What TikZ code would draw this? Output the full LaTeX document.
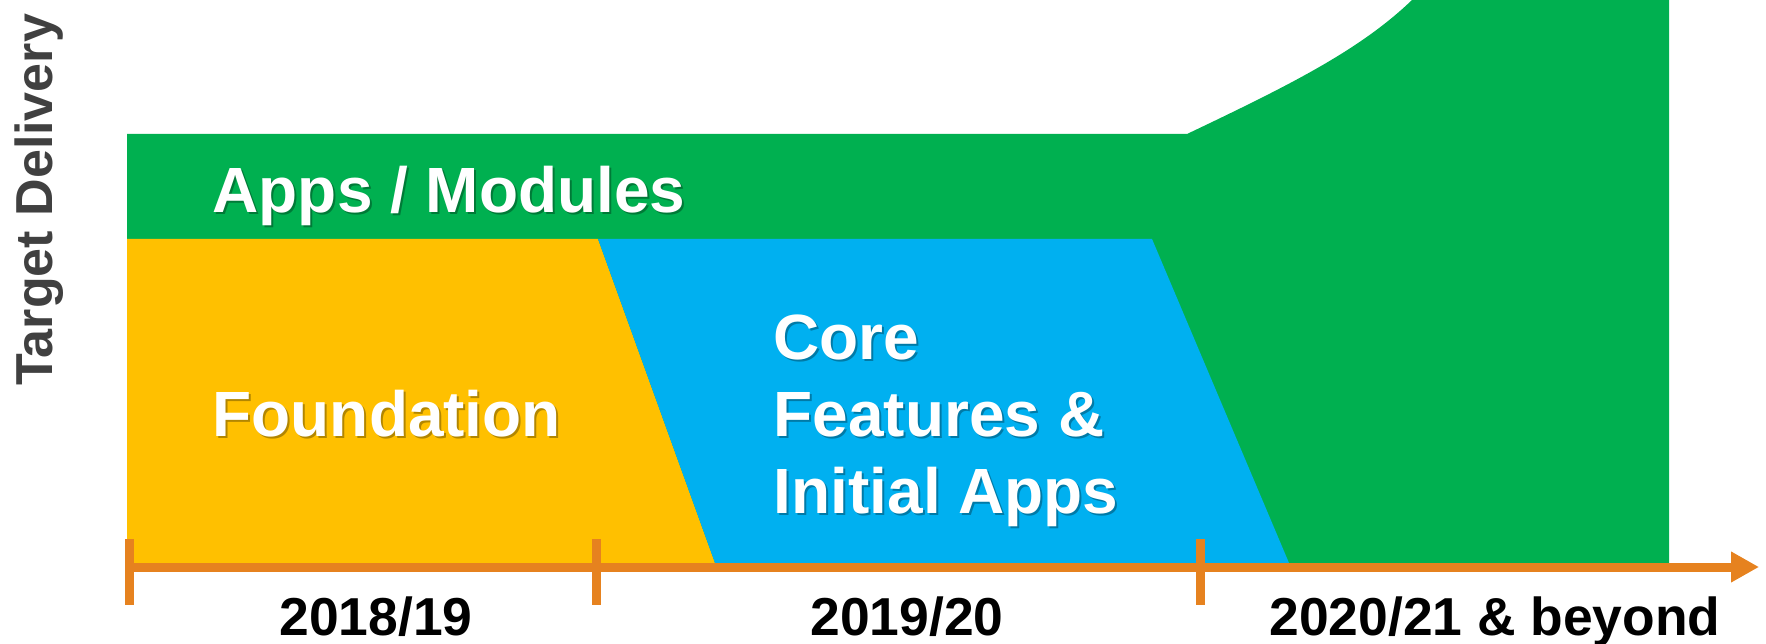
\documentclass[tikz,border=0pt]{standalone}
\usepackage{fontspec}
\setmainfont{Liberation Sans}
\usetikzlibrary{arrows.meta}

\begin{document}
\begin{tikzpicture}[x=0.1mm,y=-0.1mm,
  phase/.style={white,font=\fontsize{18.2}{21.8}\selectfont\bfseries,inner sep=0,anchor=base west,align=left},
  phaseshadow/.style={phase,black,opacity=0.3},
  yearlabel/.style={font=\fontsize{15.2}{17}\selectfont\bfseries,inner sep=0,anchor=base},
  axisline/.style={draw=axisorange,line width=0.9mm}]
\definecolor{appgreen}{HTML}{00B050}
\definecolor{foundyellow}{HTML}{FFC000}
\definecolor{coreblue}{HTML}{00B0F0}
\definecolor{axisorange}{HTML}{E6821F}
\definecolor{labelgray}{HTML}{404040}
\useasboundingbox (0,0) rectangle (1766,644);

% the three phases
\fill[appgreen] (127,134) -- (1187,134) .. controls (1290,85) and (1360,50) .. (1412,0)
  -- (1669,0) -- (1669,563) -- (127,563) -- cycle;
\fill[foundyellow] (127,239) -- (598,239) -- (715,563) -- (127,563) -- cycle;
\fill[coreblue] (598,239) -- (1152,239) -- (1289,563) -- (715,563) -- cycle;

\node[phaseshadow] (appsShadow) at (214,215) {Apps / Modules};
\node[phase] (apps) at (212,213) {Apps / Modules};
\node[phaseshadow] (foundShadow) at (214,439) {Foundation};
\node[phase] (found) at (212,437) {Foundation};
\node[phaseshadow] (coreShadow) at (775,515) {Core\\Features \&\\Initial Apps};
\node[phase] (core) at (773,513) {Core\\Features \&\\Initial Apps};

\node[font=\fontsize{14.8}{17}\selectfont\bfseries,text=labelgray,rotate=90,inner sep=0] (target) at (39,200) {Target Delivery};

% time axis
\coordinate (axisStart) at (125,567);
\coordinate (axisEnd) at (1759,567);
\draw[axisline,-{Triangle[length=2.8mm,width=2.9mm]}] (axisStart) -- (axisEnd);
\foreach \xpos [count=\i] in {129,596,1200}
  {\draw[axisline] (\xpos,539) coordinate (tick\i) -- (\xpos,605);}
\foreach \xpos/\yr [count=\i] in {376/{2018/19},907/{2019/20},1495/{2020/21 \& beyond}}
  {\node[yearlabel] (year\i) at (\xpos,635) {\yr};}
\end{tikzpicture}
\end{document}
